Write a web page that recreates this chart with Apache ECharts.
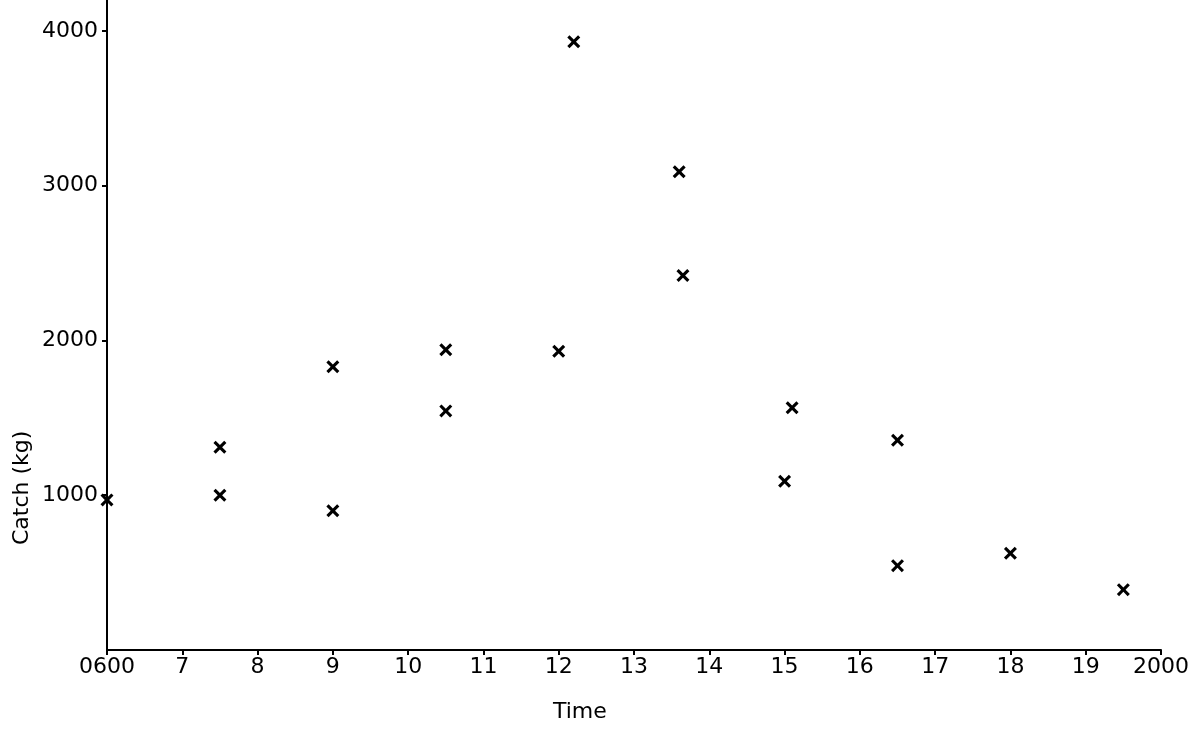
<!DOCTYPE html>
<html>
<head>
<meta charset="utf-8">
<script src="https://cdn.jsdelivr.net/npm/echarts@6/dist/echarts.min.js"></script>
<style>html,body{margin:0;padding:0;background:#fff}#c{width:1192px;height:734px}</style>
</head>
<body>
<div id="c"></div>
<script>
// Data
const times   = [6.0, 7.5, 7.5, 9.0, 9.0, 10.5, 10.5, 12.0, 12.2, 13.6, 13.65, 15.1, 15.0, 16.5, 16.5, 18.0, 19.5];
const catches = [970, 1310, 1000, 1830, 900, 1940, 1545, 1930, 3930, 3090, 2420, 1565, 1090, 1355, 545, 625, 390];
const xTickLabels = {6: '0600', 20: '2000'};
const xTitle = 'Time';
const yTitle = 'Catch (kg)';

const FONT = 'DejaVu Sans';
const crossPath = 'path://M0,1.7 L1.7,0 L5,3.3 L8.3,0 L10,1.7 L6.7,5 L10,8.3 L8.3,10 L5,6.7 L1.7,10 L0,8.3 L3.3,5 Z';

const chart = echarts.init(document.getElementById('c'), null, {renderer: 'canvas'});
chart.setOption({
  backgroundColor: '#ffffff',
  animation: false,
  grid: {left: 107, right: 29, top: 0, bottom: 84, containLabel: false},
  xAxis: {
    type: 'value', min: 6, max: 20, interval: 1,
    axisLine: {show: true, onZero: false, lineStyle: {color: '#000', width: 2}},
    axisTick: {show: true, inside: false, length: 5, lineStyle: {color: '#000', width: 2}},
    splitLine: {show: false},
    axisLabel: {
      color: '#000', fontFamily: FONT, fontSize: 22, margin: 6,
      formatter: v => xTickLabels[v] !== undefined ? xTickLabels[v] : String(v)
    }
  },
  yAxis: {
    type: 'value', min: 0, max: 4200, interval: 1000,
    axisLine: {show: true, onZero: false, lineStyle: {color: '#000', width: 2}},
    axisTick: {show: true, inside: false, length: 5, lineStyle: {color: '#000', width: 2}},
    splitLine: {show: false},
    axisLabel: {
      color: '#000', fontFamily: FONT, fontSize: 22, margin: 9,
      showMinLabel: false, showMaxLabel: false,
      formatter: v => (v % 1000 === 0 && v > 0) ? String(v) : ''
    }
  },
  graphic: [
    {type: 'text', left: 553, top: 701, style: {text: xTitle, fill: '#000', font: '22px "' + FONT + '"'}},
    {type: 'text', x: 11, y: 545, rotation: Math.PI / 2,
     style: {text: yTitle, fill: '#000', font: '22px "' + FONT + '"'}}
  ],
  series: [{
    type: 'scatter',
    data: times.map((t, i) => [t, catches[i]]),
    symbol: crossPath,
    symbolSize: 13,
    itemStyle: {color: '#000', opacity: 1}
  }]
});
</script>
</body>
</html>
